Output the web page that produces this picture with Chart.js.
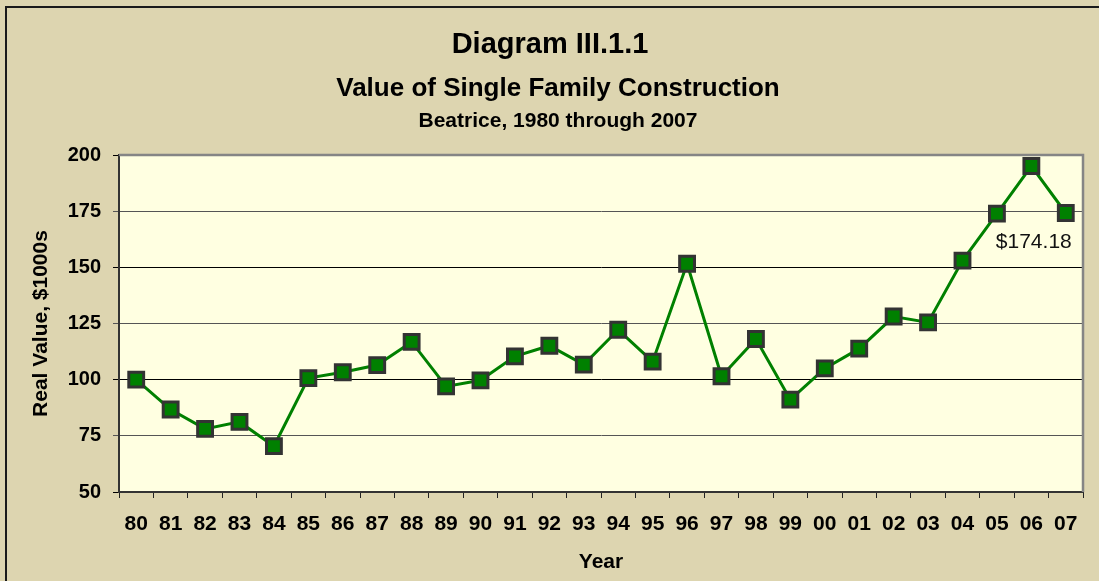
<!DOCTYPE html>
<html><head><meta charset="utf-8">
<script src="https://cdn.jsdelivr.net/npm/chart.js@4.4.1/dist/chart.umd.min.js"></script>
<style>html,body{margin:0;padding:0;background:#DDD5B0;overflow:hidden}</style>
</head><body>
<canvas id="c" width="1099" height="581"></canvas>
<script>
const years = ['80','81','82','83','84','85','86','87','88','89','90','91','92','93','94','95','96','97','98','99','00','01','02','03','04','05','06','07'];
const realValues = [100.0, 86.7, 78.1, 81.2, 70.4, 100.7, 103.3, 106.5, 116.8, 97.0, 99.7, 110.4, 115.1, 106.7, 122.2, 108.0, 151.6, 101.5, 118.1, 91.1, 105.0, 113.8, 128.1, 125.5, 153.0, 173.9, 195.1, 174.18];
const yTickValues = [50, 75, 100, 125, 150, 175, 200];
const titleLines = ['Diagram III.1.1', 'Value of Single Family Construction', 'Beatrice, 1980 through 2007'];
const yAxisTitle = 'Real Value, $1000s';
const xAxisTitle = 'Year';
const lastValueLabel = '$174.18';

const FONT = "'Liberation Sans', Arial, sans-serif";

const decor = {
  id: 'decor',
  beforeDraw(chart) {
    const ctx = chart.ctx, a = chart.chartArea;
    ctx.save();
    ctx.fillStyle = '#DDD5B0';
    ctx.fillRect(0, 0, chart.width, chart.height);
    ctx.fillStyle = '#1a1a1a';
    ctx.fillRect(5, 6, chart.width - 5, 2);
    ctx.fillRect(5, 6, 2, chart.height - 6);
    ctx.fillStyle = '#FFFFE1';
    ctx.fillRect(a.left, a.top, a.right - a.left, a.bottom - a.top);
    ctx.restore();
  },
  afterDatasetsDraw(chart) {
    const ctx = chart.ctx, a = chart.chartArea;
    ctx.save();
    ctx.strokeStyle = '#858585';
    ctx.lineWidth = 2.5;
    ctx.beginPath();
    ctx.moveTo(a.left, a.top);
    ctx.lineTo(a.right, a.top);
    ctx.lineTo(a.right, a.bottom);
    ctx.stroke();
    // value label for the last point
    const xs = chart.scales.x, ys = chart.scales.y;
    const i = realValues.length - 1;
    ctx.fillStyle = '#111';
    ctx.font = '21px ' + FONT;
    ctx.textAlign = 'center';
    ctx.textBaseline = 'middle';
    ctx.fillText(lastValueLabel, xs.getPixelForValue(i) - 32, ys.getPixelForValue(realValues[i]) + 29);
    // titles
    ctx.fillStyle = '#000';
    ctx.font = 'bold 29px ' + FONT;
    ctx.fillText(titleLines[0], 550, 45);
    ctx.font = 'bold 26px ' + FONT;
    ctx.fillText(titleLines[1], 558, 89);
    ctx.font = 'bold 21px ' + FONT;
    ctx.fillText(titleLines[2], 558, 121);
    ctx.restore();
  }
};

new Chart(document.getElementById('c'), {
  type: 'line',
  data: {
    labels: years,
    datasets: [{
      data: realValues,
      borderColor: '#008000',
      borderWidth: 3,
      pointStyle: 'rect',
      pointRadius: 10.5,
      pointHoverRadius: 10.5,
      pointBackgroundColor: '#008000',
      pointBorderColor: '#333333',
      pointBorderWidth: 3,
      tension: 0
    }]
  },
  options: {
    responsive: false,
    animation: false,
    events: [],
    layout: { padding: { left: 10, right: 16, top: 155, bottom: 0 } },
    plugins: { legend: { display: false }, tooltip: { enabled: false }, title: { display: false } },
    scales: {
      x: {
        type: 'category',
        offset: true,
        afterFit(s) { s.height = 89; },
        grid: { display: true, drawOnChartArea: false, offset: true, tickLength: 6, color: '#222', lineWidth: 1 },
        border: { display: true, color: '#333', width: 2 },
        ticks: { autoSkip: false, maxRotation: 0, padding: 14, color: '#000', font: { family: FONT, size: 21, weight: 'bold' } },
        title: { display: true, text: xAxisTitle, color: '#000', padding: { top: 0, bottom: 6 }, font: { family: FONT, size: 21, weight: 'bold' } }
      },
      y: {
        min: yTickValues[0],
        max: yTickValues[yTickValues.length - 1],
        afterFit(s) { s.width = 109; },
        afterBuildTicks(s) { s.ticks = yTickValues.map(v => ({ value: v })); },
        grid: { tickLength: 6, lineWidth: 1, color: c => (c.tick && c.tick.value % 50 === 0) ? '#000' : '#555' },
        border: { display: true, color: '#333', width: 2 },
        ticks: { padding: 12, color: '#000', font: { family: FONT, size: 20, weight: 'bold' } },
        title: { display: true, text: yAxisTitle, color: '#000', padding: { top: 19, bottom: 0 }, font: { family: FONT, size: 21, weight: 'bold' } }
      }
    }
  },
  plugins: [decor]
});
</script>
</body></html>
